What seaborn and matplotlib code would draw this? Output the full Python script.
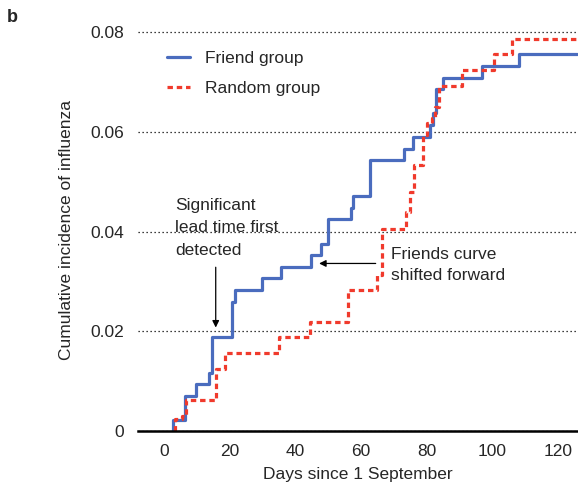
import numpy as np
import pandas as pd
import seaborn as sns
import matplotlib.pyplot as plt

# step times (days) and cumulative incidence after each step
friend_days = [2.7, 6.6, 9.9, 13.8, 14.6, 20.9, 21.7, 29.9, 35.7, 44.9, 47.7, 50.0,
               57.1, 57.6, 62.7, 73.0, 75.8, 80.9, 81.8, 82.8, 84.9, 96.9, 108.0]
friend_inc = [0.0022, 0.0071, 0.0094, 0.0117, 0.0188, 0.0259, 0.0283, 0.0307, 0.0329,
              0.0353, 0.0376, 0.0425, 0.0448, 0.0472, 0.0543, 0.0566, 0.0590, 0.0613,
              0.0637, 0.0685, 0.0708, 0.0732, 0.0755]

random_days = [3.5, 5.6, 6.8, 15.8, 18.6, 34.9, 44.6, 55.9, 64.8, 66.3, 73.8, 75.0,
               76.0, 78.8, 80.1, 81.6, 82.6, 83.7, 90.8, 100.5, 105.8]
random_inc = [0.0025, 0.0030, 0.0062, 0.0124, 0.0157, 0.0188, 0.0219, 0.0283, 0.0313,
              0.0405, 0.0440, 0.0480, 0.0533, 0.0593, 0.0617, 0.0627, 0.0650, 0.0692,
              0.0723, 0.0755, 0.0786]

end_day = 125.7
groups = ['Friend group', 'Random group']
x_ticks = [0, 20, 40, 60, 80, 100, 120]
y_ticks = [0, 0.02, 0.04, 0.06, 0.08]
y_tick_labels = ['0', '0.02', '0.04', '0.06', '0.08']


def curve(name, days, inc):
    x = [days[0]] + days + [end_day]
    y = [0.0] + inc + [inc[-1]]
    return pd.DataFrame({'day': x, 'inc': y, 'group': name})


df = pd.concat([curve(groups[0], friend_days, friend_inc),
                curve(groups[1], random_days, random_inc)], ignore_index=True)

sns.set_style('white')
plt.rcParams['font.family'] = ['Liberation Sans', 'DejaVu Sans']

fig = plt.figure(figsize=(5.78, 4.91), dpi=100)
ax = fig.add_axes([0.239, 0.122, 0.761, 0.818])

sns.lineplot(data=df, x='day', y='inc', hue='group', style='group',
             palette={groups[0]: '#4a6cbe', groups[1]: '#f03a2c'},
             dashes={groups[0]: '', groups[1]: (1.7, 1.2)},
             drawstyle='steps-post', estimator=None, sort=False, lw=2.3, ax=ax)

ax.set_xlim(-7.8, 126)
ax.set_ylim(0, 0.0805)
ax.set_xticks(x_ticks)
ax.set_yticks(y_ticks)
ax.set_yticklabels(y_tick_labels)
ax.yaxis.grid(True, linestyle=(0, (1, 2.2)), color='black', lw=0.9)
ax.set_axisbelow(True)
for s in ['left', 'top', 'right']:
    ax.spines[s].set_visible(False)
ax.spines['bottom'].set_color('black')
ax.spines['bottom'].set_linewidth(1.8)
ax.tick_params(axis='x', direction='out', length=5, width=1, color='#666666',
               labelsize=12.5, pad=4)
ax.tick_params(axis='y', length=0, labelsize=12.5, pad=10)
ax.set_xlabel('Days since 1 September', fontsize=12.5, labelpad=6)
ax.set_ylabel('Cumulative incidence of influenza', fontsize=12.5, labelpad=12)

leg = ax.legend(loc='upper left', bbox_to_anchor=(0.03, 0.985), frameon=False,
                fontsize=12.5, handlelength=1.3, handletextpad=0.9, labelspacing=0.85)
for h in leg.get_lines():
    h.set_linewidth(2.3)

ax.annotate('', xy=(15.8, 0.0202), xytext=(15.8, 0.0334),
            arrowprops=dict(arrowstyle='-|>', color='black', lw=0.9, mutation_scale=10))
ax.text(3.5, 0.0468, 'Significant\nlead time first\ndetected', fontsize=12.5,
        ha='left', va='top', linespacing=1.65)
ax.annotate('', xy=(46.4, 0.0336), xytext=(65.3, 0.0336),
            arrowprops=dict(arrowstyle='-|>', color='black', lw=0.9, mutation_scale=10))
ax.text(69.2, 0.0333, 'Friends curve\nshifted forward', fontsize=12.5,
        ha='left', va='center', linespacing=1.45)

fig.text(0.012, 0.955, 'b', fontsize=13, fontweight='bold')

fig.savefig('out.png', dpi=100)
